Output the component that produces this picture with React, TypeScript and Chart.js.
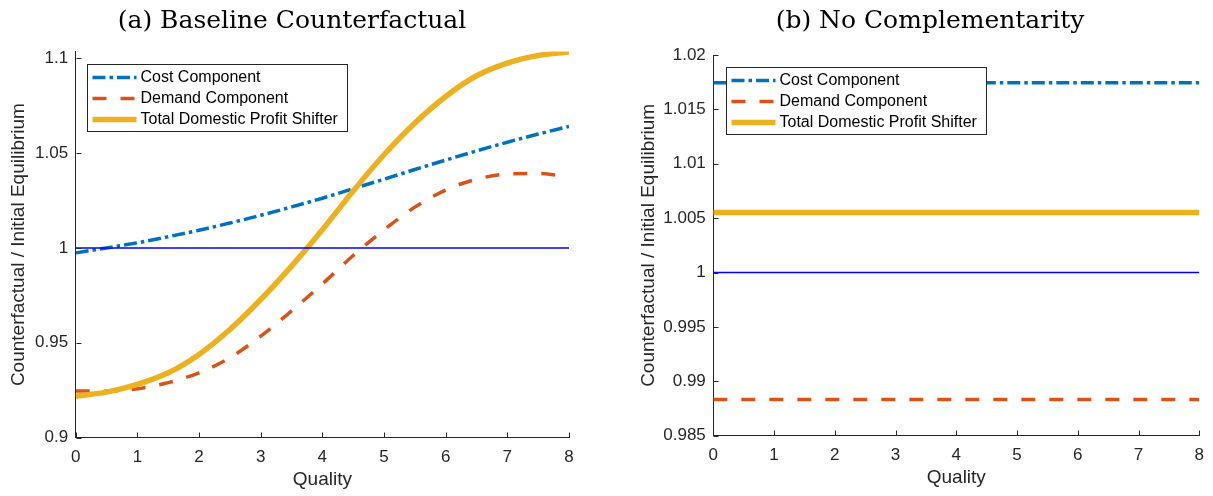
import React, { useEffect, useRef } from "react";
import { Chart, registerables } from "chart.js";

Chart.register(...registerables);

// ---------------- data ----------------
const qualityA = [0, 0.5, 1, 1.5, 2, 2.5, 3, 3.5, 4, 4.5, 5, 5.5, 6, 6.5, 7, 7.5, 8];
const costA = [0.9974, 1.0, 1.0027, 1.0059, 1.0093, 1.0131, 1.0172, 1.0216, 1.0262, 1.0312, 1.0362, 1.0413, 1.0463, 1.0511, 1.0557, 1.06, 1.064];
const demandA = [0.9246, 0.9245, 0.9258, 0.929, 0.9342, 0.9421, 0.9535, 0.9668, 0.981, 0.996, 1.0095, 1.0215, 1.0305, 1.0362, 1.0389, 1.0392, 1.0374];
const totalA = [0.9219, 0.924, 0.9281, 0.9342, 0.9439, 0.957, 0.9728, 0.9904, 1.0096, 1.03, 1.0491, 1.0658, 1.0798, 1.0907, 1.0974, 1.1014, 1.1032];

const qualityB = [0, 8];
const costB = [1.01746, 1.01746];
const demandB = [0.98833, 0.98833];
const totalB = [1.00551, 1.00551];

const baselineX = [0, 8];
const baselineY = [1, 1];

const seriesNames = ["Cost Component", "Demand Component", "Total Domestic Profit Shifter"];

const xTicks = [0, 1, 2, 3, 4, 5, 6, 7, 8];
const xTickLabels = ["0", "1", "2", "3", "4", "5", "6", "7", "8"];
const yTicksA = [0.9, 0.95, 1, 1.05, 1.1];
const yTickLabelsA = ["0.9", "0.95", "1", "1.05", "1.1"];
const yTicksB = [0.985, 0.99, 0.995, 1, 1.005, 1.01, 1.015, 1.02];
const yTickLabelsB = ["0.985", "0.99", "0.995", "1", "1.005", "1.01", "1.015", "1.02"];

const titleA = "(a) Baseline Counterfactual";
const titleB = "(b) No Complementarity";
const xTitle = "Quality";
const yTitle = "Counterfactual / Initial Equilibrium";

// ---------------- styles ----------------
const H = 496;
const AXIS = "#262626";
const BLUE = "#0072BD";
const RED = "#D95319";
const YELLOW = "#EDB120";
const SANS = "'Liberation Sans', Arial, Helvetica, sans-serif";
const SERIF = "'DejaVu Serif', serif";

type Panel = {
  quality: number[];
  cost: number[];
  demand: number[];
  total: number[];
  yMin: number;
  yMax: number;
  yTicks: number[];
  yTickLabels: string[];
  title: string;
  titleX: number;
  canvasLeft: number;
  canvasW: number;
  padTop: number;
  padRight: number;
  yAxisW: number;
  xAxisH: number;
  yTitlePad: number;
  xTitlePad: number;
  legendDx: number;
  legendDy: number;
};

const panelA: Panel = {
  quality: qualityA,
  cost: costA,
  demand: demandA,
  total: totalA,
  yMin: 0.9,
  yMax: 1.1035,
  yTicks: yTicksA,
  yTickLabels: yTickLabelsA,
  title: titleA,
  titleX: 292,
  canvasLeft: 0,
  canvasW: 600,
  padTop: 51.5,
  padRight: 31,
  yAxisW: 75.7,
  xAxisH: 58.3,
  yTitlePad: 7.1,
  xTitlePad: 4.6,
  legendDx: 11.6,
  legendDy: 12.5,
};

const panelB: Panel = {
  quality: qualityB,
  cost: costB,
  demand: demandB,
  total: totalB,
  yMin: 0.985,
  yMax: 1.02,
  yTicks: yTicksB,
  yTickLabels: yTickLabelsB,
  title: titleB,
  titleX: 930 - 606,
  canvasLeft: 606,
  canvasW: 607,
  padTop: 55,
  padRight: 13,
  yAxisW: 713.3 - 606,
  xAxisH: H - 435.7,
  yTitlePad: 43 - 11.4,
  xTitlePad: 6.6,
  legendDx: 12.4,
  legendDy: 11.7,
};

// ---------------- plugins ----------------
const inwardTicks = {
  id: "inwardTicks",
  afterDatasetsDraw(chart: any) {
    const { ctx, chartArea, scales } = chart;
    const len = 5;
    ctx.save();
    ctx.strokeStyle = AXIS;
    ctx.lineWidth = 1;
    ctx.setLineDash([]);
    ctx.beginPath();
    const xs = scales.x;
    const bottom = Math.round(chartArea.bottom) - 0.5;
    xs.ticks.forEach((t: any) => {
      const px = Math.round(xs.getPixelForValue(t.value)) + 0.5;
      ctx.moveTo(px, bottom);
      ctx.lineTo(px, bottom - len);
    });
    const ys = scales.y;
    const left = Math.round(chartArea.left) + 0.5;
    ys.ticks.forEach((t: any) => {
      const py = Math.round(ys.getPixelForValue(t.value)) + 0.5;
      ctx.moveTo(left, py);
      ctx.lineTo(left + len, py);
    });
    ctx.stroke();
    ctx.restore();
  },
};

const boxLegend = {
  id: "boxLegend",
  afterDatasetsDraw(chart: any, _args: any, opts: any) {
    const { ctx, chartArea } = chart;
    const items = chart.data.datasets.filter((d: any) => d.inLegend !== false);
    ctx.save();
    ctx.font = `16px ${SANS}`;
    let maxW = 0;
    items.forEach((d: any) => {
      maxW = Math.max(maxW, ctx.measureText(d.label).width);
    });
    const L = Math.round(chartArea.left + opts.dx) + 0.5;
    const T = Math.round(chartArea.top + opts.dy) + 0.5;
    const textX = 53;
    const w = Math.round(textX + maxW + 10);
    const rowH = 21;
    const h = 67;
    ctx.fillStyle = "#ffffff";
    ctx.fillRect(L, T, w, h);
    ctx.strokeStyle = AXIS;
    ctx.lineWidth = 1;
    ctx.setLineDash([]);
    ctx.strokeRect(L, T, w, h);
    items.forEach((d: any, i: number) => {
      const cy = T + 13 + i * rowH;
      ctx.save();
      ctx.strokeStyle = d.borderColor;
      ctx.lineWidth = d.borderWidth;
      ctx.lineCap = "butt";
      ctx.setLineDash(d.borderDash || []);
      ctx.beginPath();
      ctx.moveTo(L + 5, cy);
      ctx.lineTo(L + 49, cy);
      ctx.stroke();
      ctx.restore();
      ctx.fillStyle = "#000000";
      ctx.textBaseline = "middle";
      ctx.textAlign = "left";
      ctx.fillText(d.label, L + textX, cy);
    });
    ctx.restore();
  },
};

const figTitle = {
  id: "figTitle",
  afterDraw(chart: any, _args: any, opts: any) {
    const { ctx } = chart;
    ctx.save();
    ctx.font = `25px ${SERIF}`;
    ctx.fillStyle = "#000000";
    ctx.textAlign = "center";
    ctx.textBaseline = "alphabetic";
    ctx.fillText(opts.text, opts.x, opts.y);
    ctx.restore();
  },
};

function pts(xs: number[], ys: number[]) {
  return xs.map((x, i) => ({ x, y: ys[i] }));
}

function buildConfig(p: Panel): any {
  const common = {
    pointRadius: 0,
    pointHoverRadius: 0,
    fill: false,
    cubicInterpolationMode: "monotone",
    borderCapStyle: "butt",
    borderJoinStyle: "round",
  };
  return {
    type: "line",
    data: {
      datasets: [
        { ...common, label: seriesNames[0], data: pts(p.quality, p.cost), borderColor: BLUE, borderWidth: 3.5, borderDash: [13, 4, 3.5, 4], order: 4 },
        { ...common, label: seriesNames[1], data: pts(p.quality, p.demand), borderColor: RED, borderWidth: 3.5, borderDash: [14, 14], order: 3 },
        { ...common, label: seriesNames[2], data: pts(p.quality, p.total), borderColor: YELLOW, borderWidth: 5.5, order: 2 },
        { ...common, label: "baseline", inLegend: false, data: pts(baselineX, baselineY), borderColor: "#0000FF", borderWidth: 1.5, order: 1 },
      ],
    },
    plugins: [inwardTicks, boxLegend, figTitle],
    options: {
      responsive: false,
      maintainAspectRatio: false,
      animation: false,
      devicePixelRatio: 1,
      events: [],
      layout: { padding: { top: p.padTop, right: p.padRight, bottom: 0, left: 0 } },
      plugins: {
        legend: { display: false },
        tooltip: { enabled: false },
        title: { display: false },
        boxLegend: { dx: p.legendDx, dy: p.legendDy },
        figTitle: { text: p.title, x: p.titleX, y: 28.3 },
      },
      scales: {
        x: {
          type: "linear",
          min: 0,
          max: 8,
          afterBuildTicks: (s: any) => {
            s.ticks = xTicks.map((v) => ({ value: v }));
          },
          afterFit: (s: any) => {
            s.height = p.xAxisH;
          },
          grid: { display: false, drawTicks: false },
          border: { display: true, color: AXIS, width: 1 },
          ticks: {
            autoSkip: false,
            maxRotation: 0,
            padding: 9,
            color: AXIS,
            font: { family: SANS, size: 17 },
            callback: (_v: any, i: number) => xTickLabels[i],
          },
          title: {
            display: true,
            text: xTitle,
            color: AXIS,
            font: { family: SANS, size: 19 },
            padding: { top: 0, bottom: p.xTitlePad },
          },
        },
        y: {
          type: "linear",
          min: p.yMin,
          max: p.yMax,
          afterBuildTicks: (s: any) => {
            s.ticks = p.yTicks.map((v) => ({ value: v }));
          },
          afterFit: (s: any) => {
            s.width = p.yAxisW;
          },
          grid: { display: false, drawTicks: false },
          border: { display: true, color: AXIS, width: 1 },
          ticks: {
            autoSkip: false,
            padding: 7.5,
            color: AXIS,
            font: { family: SANS, size: 17 },
            callback: (_v: any, i: number) => p.yTickLabels[i],
          },
          title: {
            display: true,
            text: yTitle,
            color: AXIS,
            font: { family: SANS, size: 19 },
            padding: { top: p.yTitlePad, bottom: 0 },
          },
        },
      },
    },
  };
}

function PanelChart({ p }: { p: Panel }) {
  const ref = useRef<HTMLCanvasElement>(null);
  useEffect(() => {
    const chart = new Chart(ref.current as HTMLCanvasElement, buildConfig(p));
    return () => chart.destroy();
  }, [p]);
  return (
    <canvas
      ref={ref}
      width={p.canvasW}
      height={H}
      style={{ position: "absolute", left: p.canvasLeft, top: 0, width: p.canvasW, height: H }}
    />
  );
}

export default function App() {
  return (
    <div
      style={{
        position: "fixed",
        left: 0,
        top: 0,
        width: 1213,
        height: H,
        background: "#ffffff",
        overflow: "hidden",
      }}
    >
      <PanelChart p={panelA} />
      <PanelChart p={panelB} />
    </div>
  );
}
